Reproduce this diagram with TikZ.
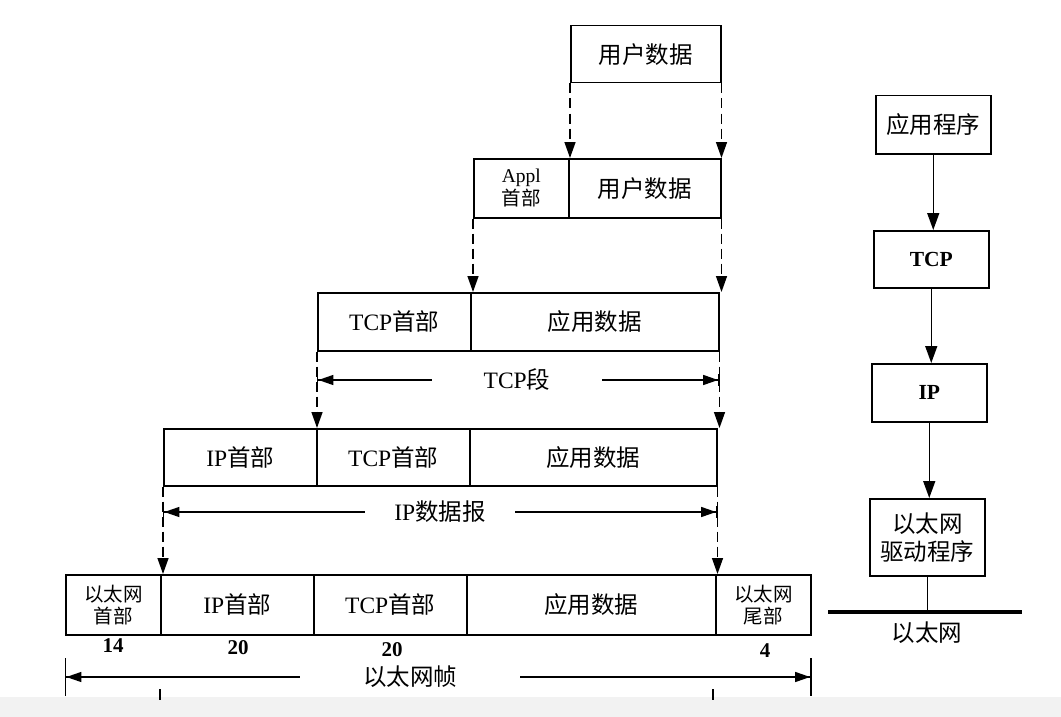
\documentclass[tikz,border=0pt]{standalone}
\usepackage{fontspec}
\setmainfont{Liberation Serif}
\newfontfamily\cjk{Noto Sans CJK SC}
\usetikzlibrary{arrows.meta}
\newcommand{\zh}[1]{{\cjk #1}}
\begin{document}
\begin{tikzpicture}[x=1pt,y=-1pt,
  cell/.style={draw, line width=1.5pt, inner sep=0pt, anchor=north west,
    font=\fontsize{23.5}{26}\selectfont, align=center},
  smalltext/.style={font=\fontsize{19.5}{22}\selectfont},
  dashline/.style={line width=1.4pt, dash pattern=on 10pt off 5pt,
    -{Triangle[length=16pt,width=11pt]}},
  dimline/.style={line width=1.4pt},
  lbl/.style={inner sep=0pt, font=\fontsize{23.5}{26}\selectfont},
  num/.style={inner sep=0pt, font=\fontsize{21}{22}\selectfont\bfseries},
  stack/.style={draw, line width=1.5pt, inner sep=0pt, anchor=north west,
    font=\fontsize{23.5}{28}\selectfont, align=center},
  flow/.style={line width=1.5pt, -{Triangle[length=17pt,width=12pt]}}
]
\path[use as bounding box] (0,0) rectangle (1061,717);
\fill[black!5] (0,697) rectangle (1061,717);

% row 1
\node[cell, minimum width=150pt, minimum height=57pt] (u) at (570,25) {\zh{用户数据}};
% row 2
\node[cell, minimum width=95pt, minimum height=59pt, smalltext] (a2) at (473,158) {Appl\\[1pt]\zh{首部}};
\node[cell, minimum width=152pt, minimum height=59pt] (u2) at (568,158) {\zh{用户数据}};
% row 3
\node[cell, minimum width=153pt, minimum height=58pt] (t3) at (317,292) {TCP\zh{首部}};
\node[cell, minimum width=248pt, minimum height=58pt] (d3) at (470,292) {\zh{应用数据}};
% row 4
\node[cell, minimum width=153pt, minimum height=57pt] (i4) at (163,428) {IP\zh{首部}};
\node[cell, minimum width=153pt, minimum height=57pt] (t4) at (316,428) {TCP\zh{首部}};
\node[cell, minimum width=247pt, minimum height=57pt] (d4) at (469,428) {\zh{应用数据}};
% row 5
\node[cell, minimum width=95pt, minimum height=60pt, smalltext] (e5) at (65,574) {\zh{以太网}\\\zh{首部}};
\node[cell, minimum width=153pt, minimum height=60pt] (i5) at (160,574) {IP\zh{首部}};
\node[cell, minimum width=153pt, minimum height=60pt] (t5) at (313,574) {TCP\zh{首部}};
\node[cell, minimum width=249pt, minimum height=60pt] (d5) at (466,574) {\zh{应用数据}};
\node[cell, minimum width=95pt, minimum height=60pt, smalltext] (f5) at (715,574) {\zh{以太网}\\\zh{尾部}};

% sizes
\node[num] (n14) at (113,646) {14};
\node[num] (n20a) at (238,648) {20};
\node[num] (n20b) at (392,650) {20};
\node[num] (n4) at (765,651) {4};

% dashed connectors
\draw[dashline] (u.south west) -- (u.south west |- a2.north);
\draw[dashline] (u.south east) -- (u.south east |- u2.north);
\draw[dashline] (a2.south west) -- (a2.south west |- d3.north);
\draw[dashline] (u2.south east) -- (u2.south east |- d3.north);
\draw[dashline] (t3.south west) -- (t3.south west |- t4.north);
\draw[dashline] (d3.south east) -- (d3.south east |- d4.north);
\draw[dashline] (i4.south west) -- (i4.south west |- i5.north);
\draw[dashline] (d4.south east) -- (d4.south east |- f5.north);

% TCP segment
\node[lbl, minimum width=170pt] (seg) at (517,380) {TCP\zh{段}};
\coordinate (segL) at (t3.south west |- seg);
\coordinate (segR) at (d3.south east |- seg);
\draw[dimline, {Bar[width=12pt]Triangle[length=15pt,width=10pt]}-] (segL) -- (seg.west);
\draw[dimline, -{Triangle[length=15pt,width=10pt]Bar[width=12pt]}] (seg.east) -- (segR);

% IP datagram
\node[lbl, minimum width=150pt] (dg) at (440,512) {IP\zh{数据报}};
\coordinate (dgL) at (i4.south west |- dg);
\coordinate (dgR) at (d4.south east |- dg);
\draw[dimline, {Bar[width=12pt]Triangle[length=15pt,width=10pt]}-] (dgL) -- (dg.west);
\draw[dimline, -{Triangle[length=15pt,width=10pt]Bar[width=12pt]}] (dg.east) -- (dgR);

% Ethernet frame
\node[lbl, minimum width=220pt] (fr) at (410,677) {\zh{以太网帧}};
\coordinate (frL) at (e5.south west |- fr);
\coordinate (frR) at (f5.south east |- fr);
\draw[dimline, {Bar[width=38pt]Triangle[length=15pt,width=10pt]}-] (frL) -- (fr.west);
\draw[dimline, -{Triangle[length=15pt,width=10pt]Bar[width=38pt]}] (fr.east) -- (frR);

% cut-off extension marks
\draw[line width=1.4pt] (160,689) -- (160,700);
\draw[line width=1.4pt] (713,689) -- (713,700);

% protocol stack
\node[stack, minimum width=115pt, minimum height=58pt] (app) at (875,95) {\zh{应用程序}};
\node[stack, minimum width=115pt, minimum height=57pt, font=\fontsize{21.5}{24}\selectfont\bfseries] (tcpb) at (873,230) {TCP};
\node[stack, minimum width=115pt, minimum height=58pt, font=\fontsize{21.5}{24}\selectfont\bfseries] (ipb) at (871,363) {IP};
\node[stack, minimum width=115pt, minimum height=77pt] (drv) at (869,498) {\zh{以太网}\\\zh{驱动程序}};
\draw[flow] (app.south) -- (app.south |- tcpb.north);
\draw[flow] (tcpb.south) -- (tcpb.south |- ipb.north);
\draw[flow] (ipb.south) -- (ipb.south |- drv.north);
\coordinate (busL) at (828,612);
\coordinate (busR) at (1022,612);
\draw[line width=4pt] (busL) -- (busR);
\draw[line width=1.5pt] (drv.south) -- (drv.south |- busL);
\node[lbl] (eth) at (927,633) {\zh{以太网}};
\end{tikzpicture}
\end{document}
